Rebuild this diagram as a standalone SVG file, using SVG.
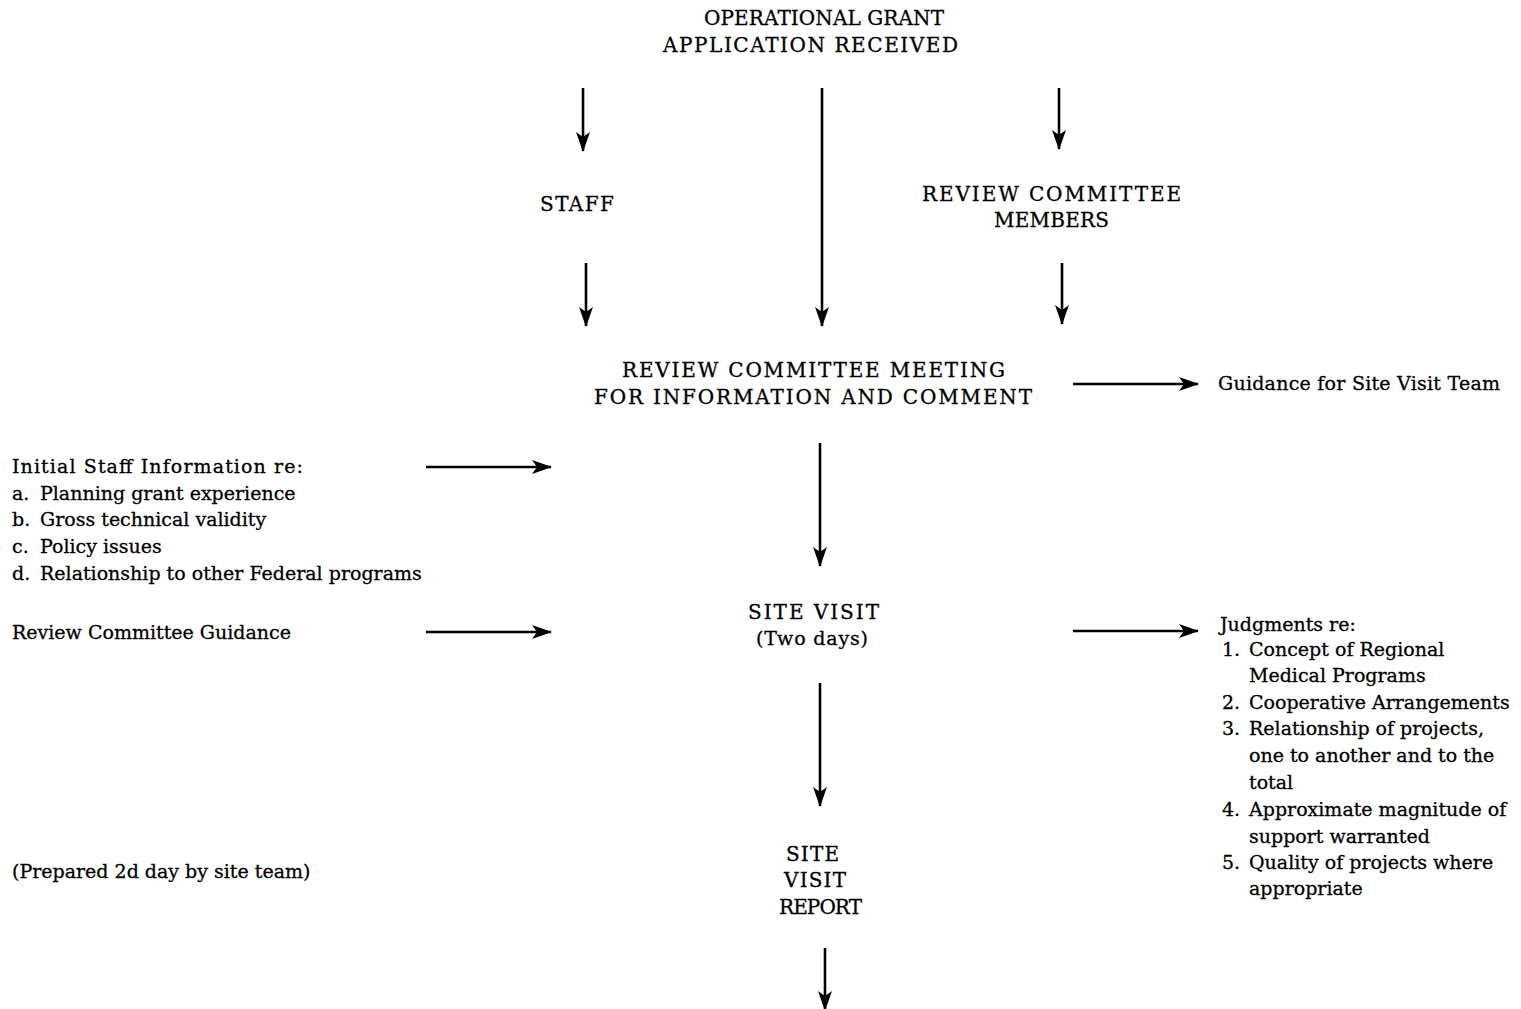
<svg xmlns="http://www.w3.org/2000/svg" width="1521" height="1009" viewBox="0 0 1521 1009">
<style>
text{font-family:"DejaVu Serif","Liberation Serif",serif;font-size:19px;fill:#000;stroke:#000;stroke-width:0.3}
.k{font-size:20px}
.ln{stroke:#000;stroke-width:2.6;fill:none;marker-end:url(#ah)}
</style>
<defs>
<marker id="ah" viewBox="0 0 20 14" refX="19" refY="7" markerWidth="20" markerHeight="14" markerUnits="userSpaceOnUse" orient="auto">
<path d="M0,0 L20,7 L0,14 L5,7 z" fill="#000"/>
</marker>
</defs>
<rect width="1521" height="1009" fill="#fff"/>
<g id="connectors">
<line class="ln" x1="583" y1="88" x2="583" y2="151"/>
<line class="ln" x1="822" y1="88" x2="822" y2="326"/>
<line class="ln" x1="1059" y1="88" x2="1059" y2="149"/>
<line class="ln" x1="586" y1="263" x2="586" y2="326"/>
<line class="ln" x1="1062" y1="263" x2="1062" y2="324"/>
<line class="ln" x1="1073" y1="384" x2="1198" y2="384"/>
<line class="ln" x1="426" y1="467" x2="551" y2="467"/>
<line class="ln" x1="820" y1="443" x2="820" y2="566"/>
<line class="ln" x1="426" y1="632" x2="551" y2="632"/>
<line class="ln" x1="1073" y1="631" x2="1198" y2="631"/>
<line class="ln" x1="820" y1="683" x2="820" y2="806"/>
<line class="ln" x1="825" y1="948" x2="825" y2="1010"/>
</g>
<g id="n-application">
<text class="k" x="704" y="25" textLength="240">OPERATIONAL GRANT</text>
<text class="k" x="663" y="52" textLength="295">APPLICATION RECEIVED</text>
</g>
<g id="n-staff">
<text class="k" x="540" y="211" textLength="74">STAFF</text>
</g>
<g id="n-members">
<text class="k" x="922" y="201" textLength="259">REVIEW COMMITTEE</text>
<text class="k" x="994" y="227" textLength="115">MEMBERS</text>
</g>
<g id="n-meeting">
<text class="k" x="622" y="377" textLength="383">REVIEW COMMITTEE MEETING</text>
<text class="k" x="594" y="404" textLength="438">FOR INFORMATION AND COMMENT</text>
</g>
<g id="n-guidance-team">
<text x="1218" y="390" textLength="282">Guidance for Site Visit Team</text>
</g>
<g id="n-initial-info">
<text x="12" y="473" textLength="291">Initial Staff Information re:</text>
<text x="12" y="500">a.</text><text x="40" y="500">Planning grant experience</text>
<text x="12" y="526">b.</text><text x="40" y="526">Gross technical validity</text>
<text x="12" y="553">c.</text><text x="40" y="553">Policy issues</text>
<text x="12" y="580">d.</text><text x="40" y="580">Relationship to other Federal programs</text>
</g>
<g id="n-rc-guidance">
<text x="12" y="639">Review Committee Guidance</text>
</g>
<g id="n-site-visit">
<text class="k" x="748" y="619" textLength="131">SITE VISIT</text>
<text x="756" y="645" textLength="112">(Two days)</text>
</g>
<g id="n-judgments">
<text x="1220" y="631">Judgments re:</text>
<text x="1222" y="656">1.</text><text x="1249" y="656">Concept of Regional</text>
<text x="1249" y="682">Medical Programs</text>
<text x="1222" y="709">2.</text><text x="1249" y="709">Cooperative Arrangements</text>
<text x="1222" y="735">3.</text><text x="1249" y="735">Relationship of projects,</text>
<text x="1249" y="762">one to another and to the</text>
<text x="1249" y="789">total</text>
<text x="1222" y="816">4.</text><text x="1249" y="816">Approximate magnitude of</text>
<text x="1249" y="843">support warranted</text>
<text x="1222" y="869">5.</text><text x="1249" y="869">Quality of projects where</text>
<text x="1249" y="895">appropriate</text>
</g>
<g id="n-prepared">
<text x="12" y="878">(Prepared 2d day by site team)</text>
</g>
<g id="n-report">
<text class="k" x="786" y="861" textLength="53">SITE</text>
<text class="k" x="784" y="887" textLength="62">VISIT</text>
<text class="k" x="779" y="914" textLength="83">REPORT</text>
</g>
</svg>
